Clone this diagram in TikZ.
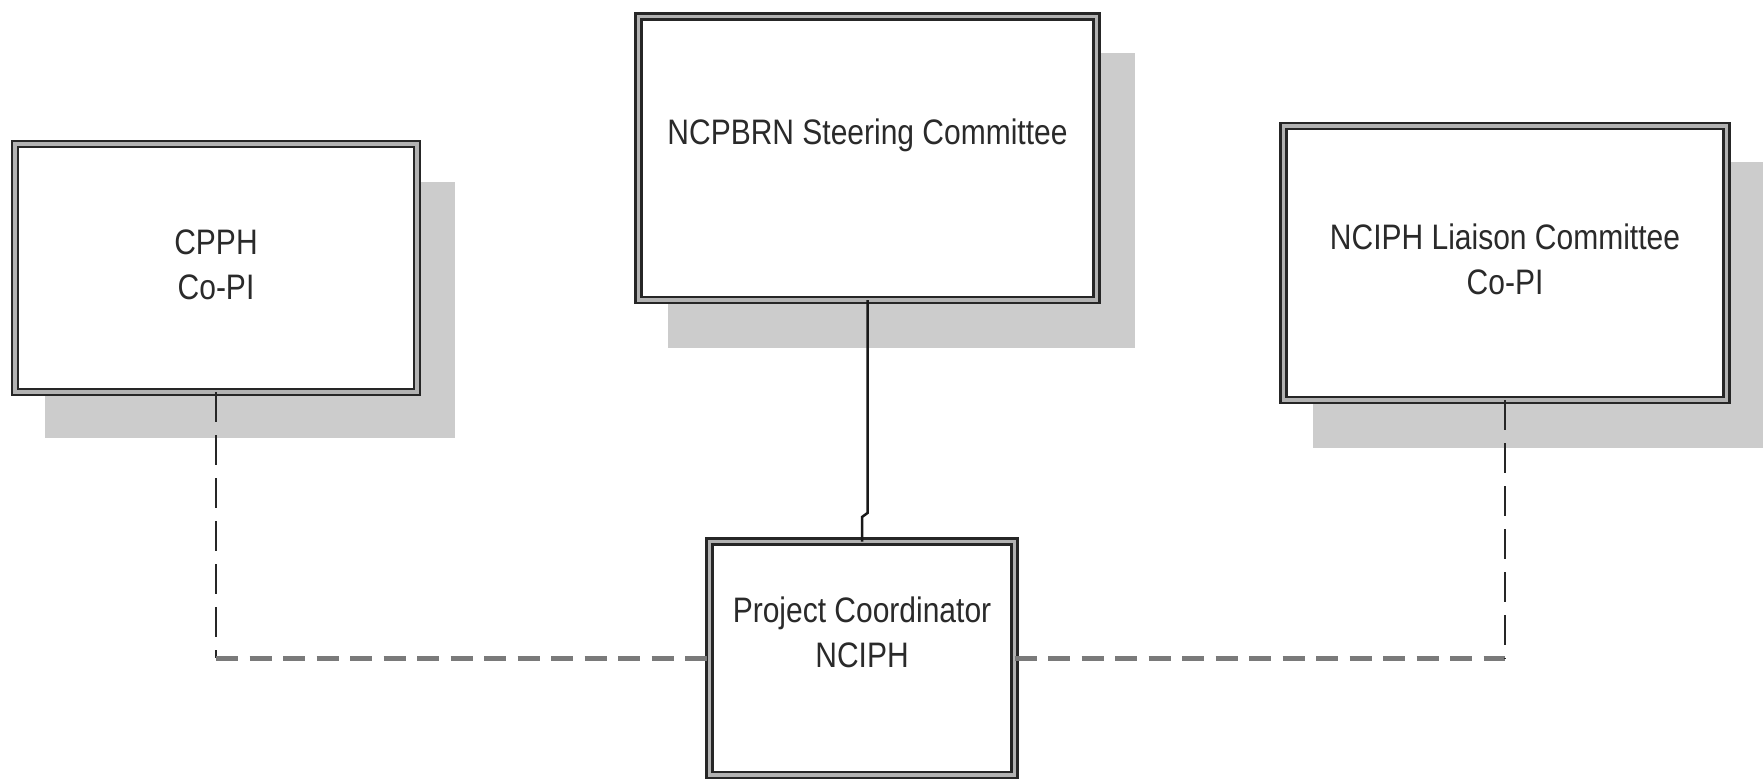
\documentclass[tikz,border=0pt]{standalone}
\usepackage{fontspec}
\setmainfont{Liberation Sans}
\usepackage{graphicx}
\definecolor{shadowc}{HTML}{CCCCCC}
\definecolor{txtc}{HTML}{2A2A2A}
\newcommand{\bxtxt}[1]{\scalebox{1}[1.18]{\fontsize{30}{38}\selectfont\begin{tabular}{@{}c@{}}#1\end{tabular}}}
\tikzset{
  orgbox/.style={rectangle, inner sep=0pt, outer sep=0pt, draw=black!85, line width=2.4pt,
    double=black!30, double distance=3.6pt, fill=white, text=txtc},
  solidcon/.style={draw=black!90, line width=2.5pt},
  vdash/.style={draw=black!85, line width=2.6pt, dash pattern=on 30pt off 13pt},
  hdash/.style={draw=black!52, line width=4.5pt, dash pattern=on 22pt off 11.5pt}
}
\begin{document}
\begin{tikzpicture}[x=1pt,y=-1pt]
\useasboundingbox (0,0) rectangle (1763,781);
% shadows
\fill[shadowc] (668,53) rectangle (1135,348);
\fill[shadowc] (45,182) rectangle (455,438);
\fill[shadowc] (1313,162) rectangle (1763,448);
% boxes
\node[orgbox, minimum width=402pt, minimum height=248pt] (cpph) at (216,268)
  {\bxtxt{CPPH\\Co-PI}};
\node[orgbox, minimum width=458pt, minimum height=283.5pt] (steer) at (867.5,158.25)
  {\bxtxt{NCPBRN Steering Committee\\ {}}};
\node[orgbox, minimum width=443pt, minimum height=274pt] (liai) at (1505,263)
  {\bxtxt{NCIPH Liaison Committee\\Co-PI}};
\node[orgbox, minimum width=305pt, minimum height=233.5pt] (pc) at (862,658.25)
  {\bxtxt{Project Coordinator\\NCIPH\\ {}}};
% solid connector with small jog
\coordinate (j1) at (867.5,513);
\coordinate (j2) at (862,517);
\draw[solidcon] (steer.south) -- (j1) -- (j2) -- (pc.north);
% dashed connectors
\coordinate (lc) at (cpph.south |- pc.west);
\coordinate (rc) at (liai.south |- pc.east);
\draw[vdash] (cpph.south) -- (lc);
\draw[hdash] (lc) -- (pc.west);
\draw[hdash] (pc.east) -- (rc);
\draw[vdash] (liai.south) -- (rc);
\end{tikzpicture}
\end{document}
